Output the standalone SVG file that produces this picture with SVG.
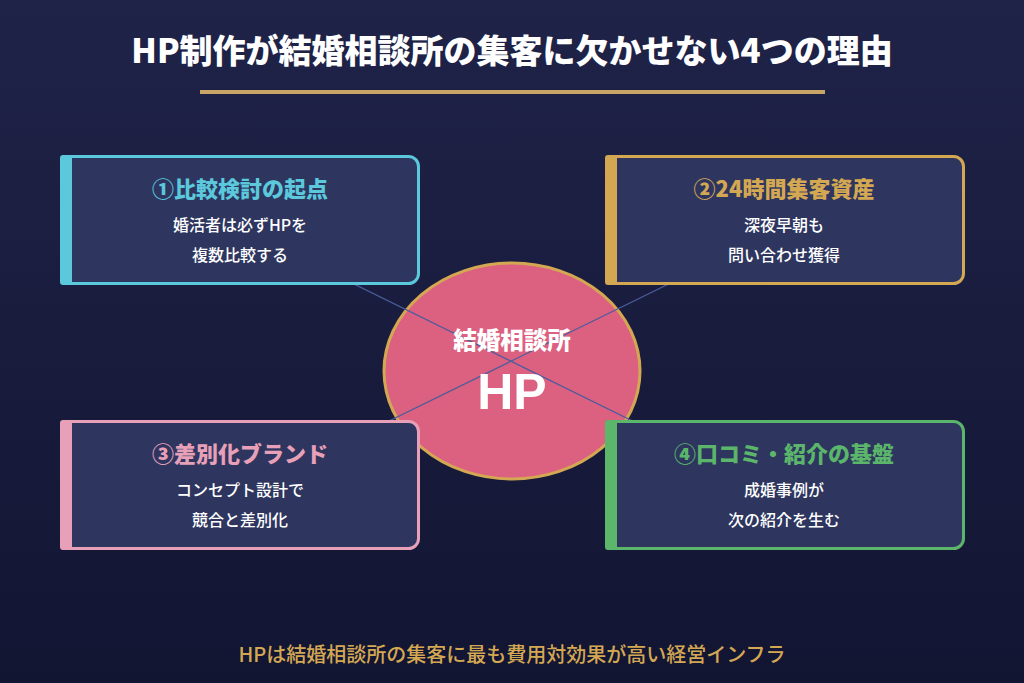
<svg xmlns="http://www.w3.org/2000/svg" width="1024" height="683" viewBox="0 0 1024 683">
<defs>
<linearGradient id="bg" x1="0" y1="0" x2="0" y2="1">
<stop offset="0" stop-color="#1f2348"/>
<stop offset="1" stop-color="#121532"/>
</linearGradient>
<style>
.jp{font-family:"Noto Sans CJK JP","Noto Sans",sans-serif;}
.box{fill:#2e3660;stroke-width:3;}
.ttl{font-size:22px;font-weight:900;text-anchor:middle;}
.txt{font-size:16px;fill:#ffffff;text-anchor:middle;font-weight:500;}
.conn{stroke:#4d5c9c;stroke-width:1.2;fill:none;}
</style>
</defs>
<rect width="1024" height="683" fill="url(#bg)"/>
<text class="jp" x="512" y="63" font-size="33" font-weight="900" fill="#ffffff" text-anchor="middle">HP制作が結婚相談所の集客に欠かせない4つの理由</text>
<rect x="200" y="90" width="625" height="4" fill="#c9a467"/>
<g id="hub">
<ellipse cx="512" cy="371" rx="128" ry="108" fill="#dc6080" stroke="#d4a853" stroke-width="3"/>
</g>
<g id="connectors">
<line class="conn" x1="240" y1="228" x2="785" y2="496"/>
<line class="conn" x1="785" y1="227" x2="240" y2="494"/>
</g>
<g id="hub-label">
<text class="jp" x="512" y="349" font-size="23.5" font-weight="900" fill="#ffffff" text-anchor="middle">結婚相談所</text>
<text x="512" y="409" font-family="'Liberation Sans',Arial,sans-serif" font-size="50" font-weight="700" fill="#ffffff" text-anchor="middle">HP</text>
</g>
<g id="node1">
<rect class="box" x="61.5" y="156.5" width="357" height="127" rx="10" stroke="#5bc8dc"/>
<rect x="60" y="155" width="12" height="130" rx="3" fill="#5bc8dc"/>
<text class="jp ttl" x="240" y="197" fill="#5bc8dc">①比較検討の起点</text>
<text class="jp txt" x="240" y="231">婚活者は必ずHPを</text>
<text class="jp txt" x="240" y="261">複数比較する</text>
</g>
<g id="node2">
<rect class="box" x="606.5" y="156.5" width="357" height="127" rx="10" stroke="#d4a853"/>
<rect x="605" y="155" width="12" height="130" rx="3" fill="#d4a853"/>
<text class="jp ttl" x="784" y="197" fill="#d4a853">②24時間集客資産</text>
<text class="jp txt" x="784" y="231">深夜早朝も</text>
<text class="jp txt" x="784" y="261">問い合わせ獲得</text>
</g>
<g id="node3">
<rect class="box" x="61.5" y="421.5" width="357" height="127" rx="10" stroke="#e8a0b8"/>
<rect x="60" y="420" width="12" height="130" rx="3" fill="#e8a0b8"/>
<text class="jp ttl" x="240" y="462" fill="#e8a0b8">③差別化ブランド</text>
<text class="jp txt" x="240" y="496">コンセプト設計で</text>
<text class="jp txt" x="240" y="526">競合と差別化</text>
</g>
<g id="node4">
<rect class="box" x="606.5" y="421.5" width="357" height="127" rx="10" stroke="#5bb56a"/>
<rect x="605" y="420" width="12" height="130" rx="3" fill="#5bb56a"/>
<text class="jp ttl" x="784" y="462" fill="#5bb56a">④口コミ・紹介の基盤</text>
<text class="jp txt" x="784" y="496">成婚事例が</text>
<text class="jp txt" x="784" y="526">次の紹介を生む</text>
</g>
<text class="jp" x="512" y="662" font-size="20" font-weight="500" fill="#d4a853" text-anchor="middle">HPは結婚相談所の集客に最も費用対効果が高い経営インフラ</text>
</svg>
